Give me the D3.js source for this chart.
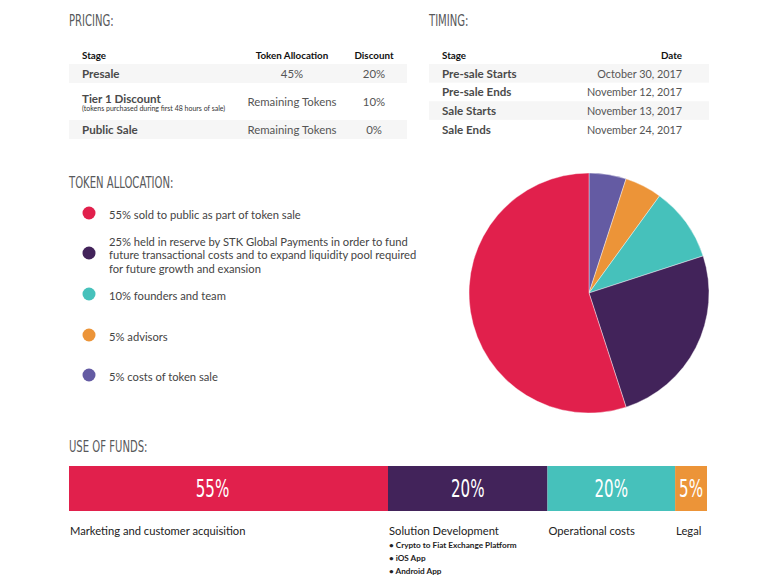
<!DOCTYPE html>
<html><head><meta charset="utf-8">
<script src="https://cdn.jsdelivr.net/npm/d3@7"></script>
<style>
body{margin:0;background:#fff;}
svg{display:block;}
</style></head>
<body>
<svg id="c" width="776" height="581"></svg>
<script>
// ---------- data ----------
const pricingHeaders = ["Stage", "Token Allocation", "Discount"];
const pricingStages = ["Presale", "Tier 1 Discount", "Public Sale"];
const pricingNotes = ["", "(tokens purchased during first 48 hours of sale)", ""];
const pricingAllocation = ["45%", "Remaining Tokens", "Remaining Tokens"];
const pricingDiscount = ["20%", "10%", "0%"];

const timingHeaders = ["Stage", "Date"];
const timingStages = ["Pre-sale Starts", "Pre-sale Ends", "Sale Starts", "Sale Ends"];
const timingDates = ["October 30, 2017", "November 12, 2017", "November 13, 2017", "November 24, 2017"];

const allocLabels = [
  "55% sold to public as part of token sale",
  "25% held in reserve by STK Global Payments in order to fund|future transactional costs and to expand liquidity pool required|for future growth and exansion",
  "10% founders and team",
  "5% advisors",
  "5% costs of token sale"
];
const allocValues = [55, 25, 10, 5, 5];
const allocColors = ["#E1204C", "#42235A", "#46C1BB", "#EC9438", "#645BA3"];

const fundsCategories = ["Marketing and customer acquisition", "Solution Development", "Operational costs", "Legal"];
const fundsLabels = ["55%", "20%", "20%", "5%"];
const fundsBarShare = [50, 25, 20, 5]; // drawn widths as shown in the picture
const fundsColors = ["#E1204C", "#42235A", "#46C1BB", "#EC9438"];
const fundsBullets = ["• Crypto to Fiat Exchange Platform", "• iOS App", "• Android App"];

// ---------- drawing ----------
const svg = d3.select("#c");
const bodyFont = "Lato, 'Open Sans', sans-serif";
const condFont = "'DejaVu Sans Condensed', 'DejaVu Sans', sans-serif";

function heading(x, y, txt) {
  svg.append("g").attr("transform", `translate(${x},${y}) scale(0.7,1)`)
    .append("text").attr("font-family", condFont).attr("font-size", 16)
    .attr("fill", "#58595B").attr("dominant-baseline", "central").text(txt);
}
heading(69, 20, "PRICING:");
heading(429, 20, "TIMING:");
heading(69, 182, "TOKEN ALLOCATION:");
heading(69, 446, "USE OF FUNDS:");

// Pricing table
const pRowY = [73, 101, 129];
const pRowH = [19, 37, 19];
const pRowTop = [64, 83, 120];
const pricing = svg.append("g");
pricingStages.forEach((s, i) => {
  if (i !== 1) pricing.append("rect").attr("x", 69).attr("y", pRowTop[i]).attr("width", 338).attr("height", pRowH[i]).attr("fill", "#F6F6F6");
});
const pColX = [82, 292, 374];
pricingHeaders.forEach((h, i) => {
  pricing.append("text").attr("x", pColX[i]).attr("y", 55).attr("text-anchor", i === 0 ? "start" : "middle")
    .attr("dominant-baseline", "central").attr("font-family", bodyFont).attr("font-weight", 700)
    .attr("font-size", 9.8).attr("fill", "#111").text(h);
});
pricingStages.forEach((s, i) => {
  const y = pRowY[i];
  pricing.append("text").attr("x", 82).attr("y", i === 1 ? 98 : y).attr("dominant-baseline", "central")
    .attr("font-family", bodyFont).attr("font-weight", 700).attr("font-size", 11.6).attr("fill", "#4A4A4A").text(s);
  if (pricingNotes[i]) pricing.append("text").attr("x", 82).attr("y", 107.5).attr("dominant-baseline", "central")
    .attr("font-family", bodyFont).attr("font-size", 7).attr("fill", "#333").text(pricingNotes[i]);
  pricing.append("text").attr("x", pColX[1]).attr("y", y).attr("text-anchor", "middle").attr("dominant-baseline", "central")
    .attr("font-family", bodyFont).attr("font-size", 11.4).attr("fill", "#555").text(pricingAllocation[i]);
  pricing.append("text").attr("x", pColX[2]).attr("y", y).attr("text-anchor", "middle").attr("dominant-baseline", "central")
    .attr("font-family", bodyFont).attr("font-size", 11.4).attr("fill", "#555").text(pricingDiscount[i]);
});

// Timing table
const tY = d3.scaleBand().domain(timingStages).range([64, 138.5]);
const timing = svg.append("g");
timingStages.forEach((s, i) => {
  if (i % 2 === 0) timing.append("rect").attr("x", 429).attr("y", tY(s)).attr("width", 280).attr("height", tY.bandwidth()).attr("fill", "#F6F6F6");
  timing.append("text").attr("x", 442).attr("y", tY(s) + tY.bandwidth() / 2).attr("dominant-baseline", "central")
    .attr("font-family", bodyFont).attr("font-weight", 700).attr("font-size", 11.6).attr("fill", "#4A4A4A").text(s);
  timing.append("text").attr("x", 682).attr("y", tY(s) + tY.bandwidth() / 2).attr("text-anchor", "end").attr("dominant-baseline", "central")
    .attr("font-family", bodyFont).attr("font-size", 10.8).attr("fill", "#555").text(timingDates[i]);
});
timing.append("text").attr("x", 442).attr("y", 55).attr("dominant-baseline", "central").attr("font-family", bodyFont)
  .attr("font-weight", 700).attr("font-size", 9.8).attr("fill", "#111").text(timingHeaders[0]);
timing.append("text").attr("x", 682).attr("y", 55).attr("text-anchor", "end").attr("dominant-baseline", "central").attr("font-family", bodyFont)
  .attr("font-weight", 700).attr("font-size", 9.8).attr("fill", "#111").text(timingHeaders[1]);

// Legend
const legendY = [213, 253, 294, 335, 375];
const legend = svg.append("g");
allocLabels.forEach((l, i) => {
  legend.append("circle").attr("cx", 89).attr("cy", legendY[i]).attr("r", 6.5).attr("fill", allocColors[i]);
  const lines = l.split("|");
  lines.forEach((ln, j) => {
    legend.append("text").attr("x", 109).attr("y", legendY[i] + 1.5 + (j - (lines.length - 1) / 2) * 13.5)
      .attr("dominant-baseline", "central").attr("font-family", bodyFont).attr("font-size", 11.2)
      .attr("fill", "#444").text(ln);
  });
});

// Pie (clockwise from top: reversed order)
const pieData = allocValues.map((v, i) => ({ v, c: allocColors[i], i })).reverse();
const pie = d3.pie().value(d => d.v).sort(null);
const arc = d3.arc().innerRadius(0).outerRadius(120);
svg.append("g").attr("transform", "translate(589,293)")
  .selectAll("path").data(pie(pieData)).join("path")
  .attr("d", arc).attr("fill", d => d.data.c).attr("stroke", "#fff").attr("stroke-width", 0.4);

// Use of funds bar
const x = d3.scaleLinear().domain([0, d3.sum(fundsBarShare)]).range([69, 707]);
const cum = d3.cumsum([0, ...fundsBarShare]);
const bar = svg.append("g");
fundsBarShare.forEach((v, i) => {
  const x0 = x(cum[i]), x1 = x(cum[i + 1]);
  const cx = i === 0 ? x0 + (x1 - x0) * 0.45 : (x0 + x1) / 2;
  bar.append("rect").attr("x", x0).attr("y", 466).attr("width", x1 - x0).attr("height", 45).attr("fill", fundsColors[i]);
  bar.append("g").attr("transform", `translate(${cx},${489}) scale(0.7,1)`)
    .append("text").attr("text-anchor", "middle").attr("dominant-baseline", "central")
    .attr("font-family", condFont).attr("font-size", 24).attr("fill", "#fff").text(fundsLabels[i]);
  bar.append("text").attr("x", x0 + 1).attr("y", 530).attr("dominant-baseline", "central")
    .attr("font-family", bodyFont).attr("font-size", 11.2).attr("fill", "#222").text(fundsCategories[i]);
});
fundsBullets.forEach((b, j) => {
  bar.append("text").attr("x", x(cum[1]) + 1).attr("y", 545 + j * 13).attr("dominant-baseline", "central")
    .attr("font-family", bodyFont).attr("font-weight", 700).attr("font-size", 8.2).attr("fill", "#222").text(b);
});
</script>
</body></html>
